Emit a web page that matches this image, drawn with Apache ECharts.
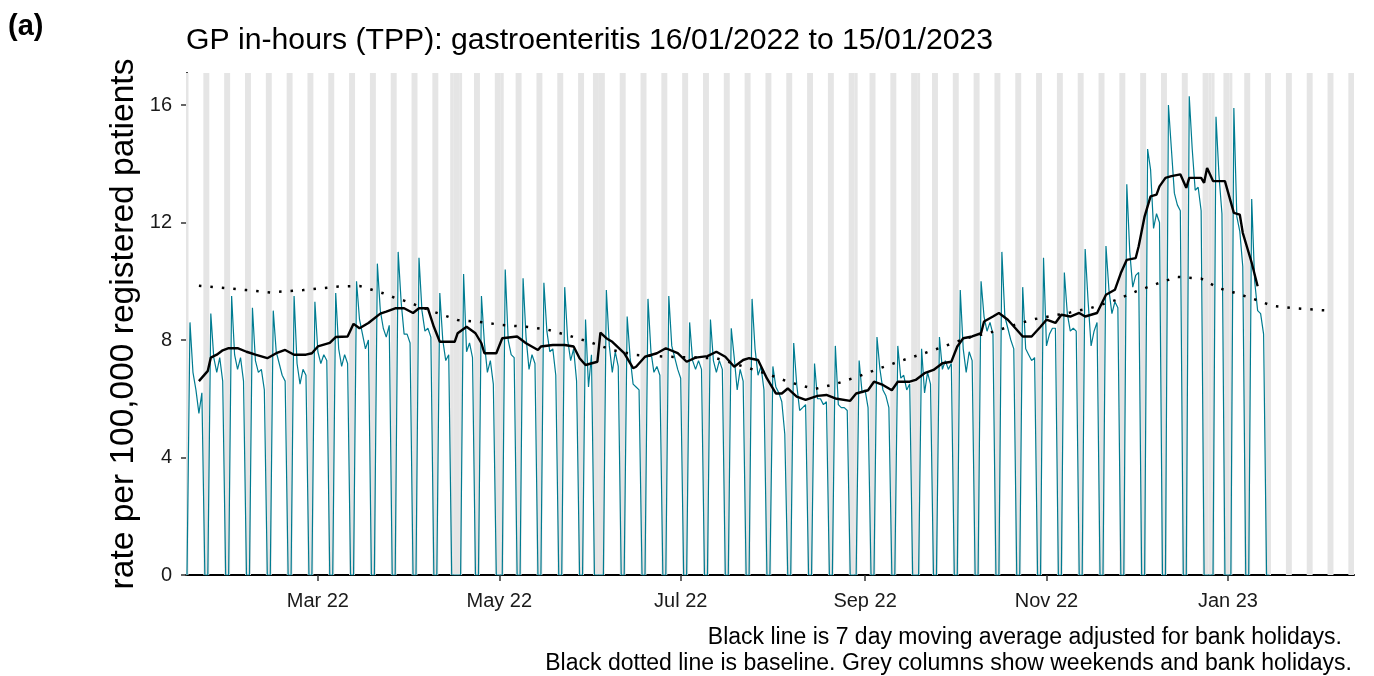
<!DOCTYPE html>
<html>
<head>
<meta charset="UTF-8">
<title>GP in-hours gastroenteritis</title>
<script src="https://cdn.jsdelivr.net/npm/echarts@6/dist/echarts.min.js"></script>
<style>
  html, body { margin: 0; padding: 0; background: #fff; }
  #chart { width: 1374px; height: 676px; }
</style>
</head>
<body>
<div id="chart"></div>
<script>
// first day of the daily series (a Sunday)
var startDate = [2022, 1, 16];

// daily rate per 100,000, from Sun 16/01/2022; each row is Mon..Sun
var dailyRate = [0,
  8.6, 6.9, 6.3, 5.5, 6.2, 0, 0,
  8.9, 7.4, 6.9, 7.4, 6.6, 0, 0,
  9.5, 7.5, 7.0, 7.4, 6.6, 0, 0,
  9.1, 7.3, 6.9, 7.0, 6.3, 0, 0,
  9.0, 7.6, 7.2, 6.8, 6.6, 0, 0,
  9.5, 7.2, 6.5, 7.0, 6.8, 0, 0,
  9.3, 7.6, 7.2, 7.5, 7.3, 0, 0,
  9.6, 7.7, 7.1, 7.5, 7.2, 0, 0,
  10.0, 8.7, 8.2, 7.7, 8.0, 0, 0,
  10.6, 9.0, 8.4, 8.1, 8.5, 0, 0,
  11.0, 9.3, 8.2, 8.2, 7.9, 0, 0,
  10.8, 9.0, 8.3, 8.4, 8.1, 0, 0,
  9.6, 8.0, 7.3, 7.5, 0, 0, 0,
  0, 10.25, 7.6, 7.9, 7.4, 0, 0,
  9.5, 7.9, 6.9, 7.3, 6.5, 0, 0,
  0, 10.4, 8.0, 7.5, 7.4, 0, 0,
  10.1, 8.1, 7.0, 7.5, 7.2, 0, 0,
  9.95, 8.3, 7.6, 7.7, 6.8, 0, 0,
  9.8, 8.0, 7.3, 7.7, 6.6, 0, 0,
  8.7, 6.4, 7.5, 0, 0, 0, 0,
  9.7, 7.8, 6.9, 7.6, 7.1, 0, 0,
  8.8, 7.4, 6.5, 6.4, 6.3, 0, 0,
  9.4, 7.6, 6.9, 7.1, 6.8, 0, 0,
  9.5, 7.8, 7.4, 7.0, 6.7, 0, 0,
  8.6, 7.3, 7.0, 7.3, 7.0, 0, 0,
  8.7, 7.3, 6.9, 7.3, 7.0, 0, 0,
  8.4, 7.4, 6.3, 7.0, 6.6, 0, 0,
  9.4, 7.7, 6.8, 7.1, 6.3, 0, 0,
  7.1, 6.4, 6.2, 5.9, 4.8, 0, 0,
  7.9, 6.5, 5.6, 5.7, 5.8, 0, 0,
  7.2, 6.0, 6.0, 5.8, 5.9, 0, 0,
  7.8, 5.8, 5.7, 5.7, 5.6, 0, 0,
  0, 7.3, 6.2, 6.3, 5.7, 0, 0,
  8.1, 7.0, 6.3, 6.1, 5.7, 0, 0,
  7.8, 6.7, 6.8, 6.3, 6.5, 0, 0,
  0, 7.7, 6.2, 6.9, 6.5, 0, 0,
  8.1, 7.0, 7.3, 7.0, 7.2, 0, 0,
  9.7, 7.7, 6.9, 7.6, 7.3, 0, 0,
  10.0, 8.8, 8.3, 8.6, 8.2, 0, 0,
  11.0, 8.8, 8.4, 8.0, 7.7, 0, 0,
  9.8, 7.7, 7.5, 7.3, 7.4, 0, 0,
  10.8, 7.8, 8.2, 8.4, 8.4, 0, 0,
  10.3, 8.9, 8.3, 8.4, 8.3, 0, 0,
  11.1, 9.3, 7.8, 8.3, 8.6, 0, 0,
  11.2, 9.7, 8.9, 9.3, 9.1, 0, 0,
  13.3, 11.0, 9.8, 10.2, 10.3, 0, 0,
  14.5, 13.8, 11.8, 12.3, 12.0, 0, 0,
  16.0, 14.5, 13.0, 12.6, 12.4, 0, 0,
  16.3, 14.5, 13.1, 13.2, 12.4, 0, 0,
  0, 0, 15.6, 13.6, 12.3, 0, 0,
  0, 15.9, 12.2, 11.7, 10.5, 0, 0,
  12.8, 10.0, 9.0, 8.9, 8.2, 0, 0
];

// 7 day moving average: [day offset from start, rate]
var movingAvg = [
  [4, 6.6], [7, 6.95], [8, 7.4], [10, 7.5], [12, 7.65], [14, 7.72], [17, 7.72], [20, 7.6],
  [23, 7.5], [27, 7.38], [30, 7.55], [33, 7.66], [36, 7.5], [40, 7.5], [42, 7.55], [44, 7.78],
  [48, 7.9], [50, 8.1], [54, 8.12], [56, 8.55], [58, 8.4], [61, 8.58], [65, 8.9], [67, 8.97],
  [70, 9.08], [73, 9.08], [76, 8.92], [78, 9.08], [81, 9.08], [83, 8.45], [85, 7.94], [90, 7.94],
  [91, 8.23], [94, 8.45], [97, 8.23], [99, 7.89], [100, 7.55], [104, 7.55], [106, 8.06], [111, 8.12],
  [114, 7.89], [118, 7.66], [119, 7.78], [123, 7.83], [127, 7.83], [130, 7.78], [132, 7.38], [134, 7.15],
  [138, 7.26], [139, 8.25], [141, 8.06], [143, 7.94], [147, 7.55], [150, 7.04], [151, 7.09], [154, 7.43],
  [158, 7.55], [161, 7.72], [165, 7.55], [168, 7.26], [171, 7.4], [175, 7.45], [178, 7.6], [181, 7.43],
  [184, 7.09], [187, 7.32], [189, 7.38], [192, 7.32], [195, 6.69], [198, 6.18], [200, 6.18], [202, 6.35],
  [205, 6.07], [208, 5.96], [212, 6.1], [215, 6.13], [218, 6.01], [223, 5.93], [225, 6.18], [229, 6.29],
  [231, 6.58], [234, 6.47], [237, 6.29], [239, 6.58], [243, 6.58], [245, 6.64], [248, 6.87], [251, 6.98],
  [254, 7.21], [257, 7.26], [259, 7.78], [261, 8.06], [264, 8.12], [267, 8.23], [268, 8.63], [271, 8.8],
  [273, 8.92], [276, 8.69], [279, 8.35], [281, 8.12], [284, 8.12], [287, 8.45], [289, 8.69], [292, 8.58],
  [294, 8.86], [297, 8.8], [300, 8.92], [302, 8.8], [306, 8.92], [309, 9.54], [312, 9.71], [314, 10.28],
  [316, 10.73], [319, 10.79], [320, 11.19], [322, 12.21], [324, 12.89], [326, 12.95], [327, 13.23], [329, 13.52],
  [331, 13.58], [334, 13.64], [336, 13.18], [337, 13.52], [341, 13.52], [342, 13.35], [343, 13.86], [345, 13.41],
  [349, 13.41], [352, 12.33], [354, 12.27], [355, 11.65], [358, 10.63], [360, 9.83]
];

// baseline: [day offset from start, rate]
var baseline = [
  [4, 9.85], [20, 9.7], [28, 9.62], [39, 9.7], [51, 9.82], [58, 9.84], [66, 9.59], [70, 9.43],
  [73, 9.34], [77, 9.19], [83, 8.96], [91, 8.68], [98, 8.62], [106, 8.51], [114, 8.45], [121, 8.36],
  [129, 8.13], [136, 7.91], [143, 7.66], [151, 7.49], [162, 7.43], [178, 7.38], [189, 7.04], [196, 6.81],
  [203, 6.55], [211, 6.33], [218, 6.5], [226, 6.77], [233, 7.04], [240, 7.29], [248, 7.55], [255, 7.8],
  [262, 8.06], [270, 8.25], [281, 8.6], [285, 8.71], [297, 8.94], [304, 9.09], [312, 9.35], [319, 9.65],
  [326, 9.91], [333, 10.15], [337, 10.12], [341, 10.09], [347, 9.76], [351, 9.65], [358, 9.42], [365, 9.16],
  [373, 9.08], [381, 9.02], [385, 9.0]
];

var bankHolidays = ['2022-04-15', '2022-04-18', '2022-05-02', '2022-06-02', '2022-06-03',
  '2022-08-29', '2022-09-19', '2022-12-26', '2022-12-27', '2023-01-02'];

var tickDates = ['2022-03-01', '2022-05-01', '2022-07-01', '2022-09-01', '2022-11-01', '2023-01-01'];
var tickLabels = ['Mar 22', 'May 22', 'Jul 22', 'Sep 22', 'Nov 22', 'Jan 23'];

// x axis runs in days since startDate
var DAY = 864e5;
var t0 = Date.UTC(startDate[0], startDate[1] - 1, startDate[2]);
function dayOf(s) {
  var p = s.split('-');
  return Math.round((Date.UTC(+p[0], +p[1] - 1, +p[2]) - t0) / DAY);
}

var xMin = -0.34;
var xMax = 392.4;

var rateData = dailyRate.map(function (v, i) { return [i, v]; });

// grey columns: weekends and bank holidays
var shade = [];
function addShade(a, b) {
  a = Math.max(a, xMin); b = Math.min(b, xMax);
  if (b > a) shade.push([{ xAxis: a }, { xAxis: b }]);
}
for (var d = -2; d < 395; d++) {
  if (new Date(t0 + d * DAY).getUTCDay() === 6) addShade(d - 0.5, d + 1.5);
}
bankHolidays.forEach(function (s) {
  var k = dayOf(s);
  addShade(k - 0.5, k + 0.5);
});

var tickValues = tickDates.map(dayOf);
var FONT = '"Liberation Sans", Arial, sans-serif';

var chart = echarts.init(document.getElementById('chart'), null, { renderer: 'canvas' });
chart.setOption({
  animation: false,
  backgroundColor: '#fff',
  grid: { left: 186, right: 20, top: 73, bottom: 101, containLabel: false },
  xAxis: {
    type: 'value',
    min: xMin,
    max: xMax,
    axisLine: { show: true, lineStyle: { color: '#000', width: 2 } },
    axisTick: { show: true, length: 6, lineStyle: { color: '#333', width: 1.5 }, customValues: tickValues },
    axisLabel: {
      customValues: tickValues,
      margin: 16,
      fontSize: 20,
      fontFamily: FONT,
      color: '#1a1a1a',
      formatter: function (v) {
        var i = tickValues.indexOf(Math.round(v));
        return i >= 0 ? tickLabels[i] : '';
      }
    },
    splitLine: { show: false }
  },
  yAxis: {
    type: 'value',
    min: 0,
    max: 17.09,
    interval: 4,
    axisLine: { show: true, lineStyle: { color: '#000', width: 2 } },
    axisTick: { show: true, length: 6, lineStyle: { color: '#333', width: 1.5 } },
    axisLabel: { margin: 14, fontSize: 20, fontFamily: FONT, color: '#1a1a1a', showMaxLabel: false },
    splitLine: { show: false }
  },
  series: [
    {
      name: 'columns',
      type: 'line',
      data: rateData,
      showSymbol: false,
      silent: true,
      z: 1,
      lineStyle: { opacity: 0 },
      markArea: { silent: true, itemStyle: { color: '#e5e5e5' }, data: shade }
    },
    {
      name: 'daily',
      type: 'line',
      data: rateData,
      showSymbol: false,
      z: 2,
      lineStyle: { color: '#007c91', width: 1.2 }
    },
    {
      name: 'baseline',
      type: 'line',
      data: baseline,
      showSymbol: false,
      z: 3,
      lineStyle: { color: '#000', width: 2.5, type: [2.5, 9], cap: 'butt' }
    },
    {
      name: 'moving average',
      type: 'line',
      data: movingAvg,
      showSymbol: false,
      z: 4,
      lineStyle: { color: '#000', width: 2.4 }
    }
  ],
  graphic: [
    { type: 'text', left: 8, top: 12, style: { text: '(a)', font: 'bold 29px ' + FONT, fill: '#000' } },
    { type: 'text', x: 186, y: 41, style: { text: 'GP in-hours (TPP): gastroenteritis 16/01/2022 to 15/01/2023',
      font: '30.2px ' + FONT, fill: '#000', textAlign: 'left', textVerticalAlign: 'middle', align: 'left', verticalAlign: 'middle' } },
    { type: 'text', x: 124, y: 324, rotation: Math.PI / 2, style: { text: 'rate per 100,000 registered patients',
      font: '33.5px ' + FONT, fill: '#000', textAlign: 'center', textVerticalAlign: 'middle', align: 'center', verticalAlign: 'middle' } },
    { type: 'text', x: 1342, y: 638, style: { text: 'Black line is 7 day moving average adjusted for bank holidays.',
      font: '23px ' + FONT, fill: '#000', textAlign: 'right', textVerticalAlign: 'middle', align: 'right', verticalAlign: 'middle' } },
    { type: 'text', x: 1352, y: 664, style: { text: 'Black dotted line is baseline. Grey columns show weekends and bank holidays.',
      font: '23px ' + FONT, fill: '#000', textAlign: 'right', textVerticalAlign: 'middle', align: 'right', verticalAlign: 'middle' } }
  ]
});
</script>
</body>
</html>
